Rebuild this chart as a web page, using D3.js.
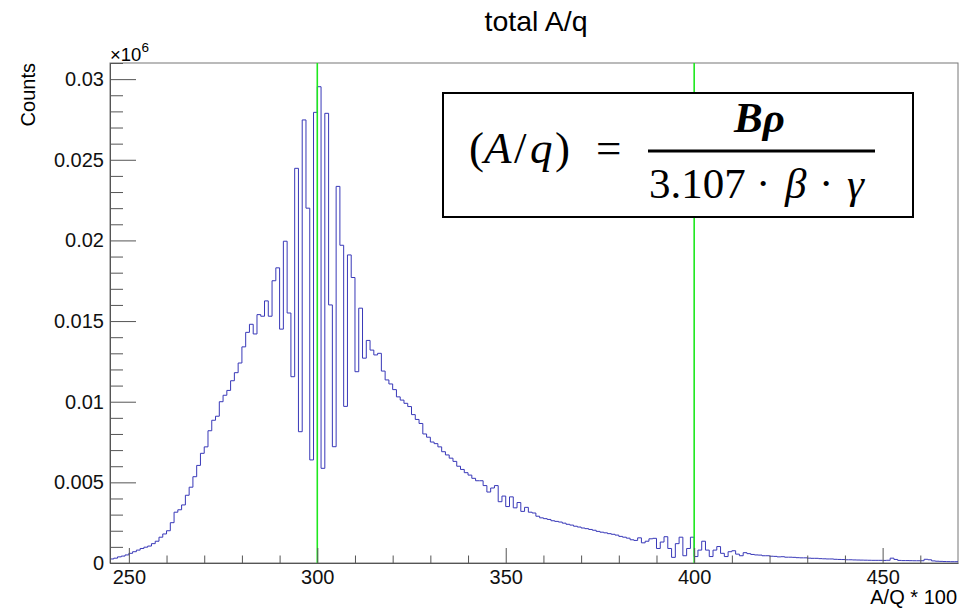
<!DOCTYPE html>
<html>
<head>
<meta charset="utf-8">
<script src="https://cdn.jsdelivr.net/npm/d3@7"></script>
<style>
  body { margin: 0; background: #fff; }
  svg { font-family: "Liberation Sans", Arial, sans-serif; }
</style>
</head>
<body>
<div id="chart-area"></div>
<script>
// HISTOGRAM DEFINITION (A/Q * 100, 1 unit bins)
var xMin = 245, xMax = 470;
var majorX = [250, 300, 350, 400, 450];
var majorY = [0, 5000, 10000, 15000, 20000, 25000, 30000];
var markers = [300, 400];

// counts per bin, starting at 245
var counts = [
  250, 300, 380, 430, 500, 600, 700, 800, 900, 980,
  1050, 1200, 1350, 1600, 1800, 2000, 2500, 3150, 3300, 3600,
  4200, 4700, 5350, 6050, 6800, 7200, 8200, 8850, 9100, 10000,
  10400, 10700, 11300, 11800, 12400, 13400, 14300, 14800, 14200, 15400,
  15300, 16250, 15300, 17500, 18300, 14500, 19950, 15500, 11550, 24470,
  8140, 27470, 22000, 6390, 27940, 29530, 5870, 27880, 16000, 7210,
  23350, 19700, 9710, 19100, 17700, 11860, 15800, 12700, 13800, 13200,
  12900, 13000, 11900, 11350, 11100, 10750, 10300, 10100, 9900, 9700,
  9200, 8900, 8650, 8000, 7800, 7500, 7400, 7200, 6900, 6700,
  6500, 6300, 6000, 5800, 5600, 5450, 5250, 5100, 5100, 4800,
  4400, 4650, 4800, 3800, 4150, 3500, 4100, 3420, 3750, 3200,
  3450, 3150, 3100, 2900, 2800, 2750, 2700, 2620, 2580, 2540,
  2470, 2400, 2350, 2280, 2230, 2170, 2130, 2080, 2030, 1960,
  1910, 1870, 1820, 1780, 1730, 1650, 1600, 1540, 1440, 1400,
  1560, 1250, 1350, 1500, 1530, 900, 1300, 1630, 900, 350,
  1200, 1600, 450, 900, 1600, 400, 800, 1350, 800, 400,
  800, 1020, 600, 400, 700, 760, 550, 450, 640, 580,
  530, 500, 490, 450, 450, 420, 410, 380, 390, 360,
  360, 350, 330, 320, 320, 300, 290, 290, 270, 260,
  250, 250, 230, 220, 215, 200, 200, 190, 185, 180,
  175, 170, 165, 165, 165, 160, 170, 300, 220, 160,
  150, 150, 145, 140, 140, 140, 230, 200, 130, 110,
  100, 90, 85, 80, 80
];

var W = 960, H = 610;
var frame = { left: 110, right: 958, top: 63, bottom: 563 };

var svg = d3.select("#chart-area")
    .append("svg")
        .attr("width", W)
        .attr("height", H);

// SCALES
var x = d3.scaleLinear()
    .domain([xMin, xMax])
    .range([frame.left, frame.right]);

var y = d3.scaleLinear()
    .domain([0, 31000])
    .range([frame.bottom, frame.top]);

// FRAME
svg.append("rect")
    .attr("x", frame.left)
    .attr("y", frame.top)
    .attr("width", frame.right - frame.left)
    .attr("height", frame.bottom - frame.top)
    .attr("fill", "none")
    .attr("stroke", "#777")
    .attr("stroke-width", 1);

// HISTOGRAM (step line)
var pts = counts.map(function(c, i) { return [xMin + i, c]; });
pts.push([xMin + counts.length, counts[counts.length - 1]]);

var step = d3.line()
    .x(function(d) { return x(d[0]); })
    .y(function(d) { return y(d[1]); })
    .curve(d3.curveStepAfter);

svg.append("path")
    .datum(pts)
    .attr("d", step)
    .attr("fill", "none")
    .attr("stroke", "#3838b8")
    .attr("stroke-width", 1);

// GREEN MARKERS
svg.selectAll("line.marker")
    .data(markers)
    .enter().append("line")
    .attr("class", "marker")
    .attr("x1", function(d) { return x(d); })
    .attr("x2", function(d) { return x(d); })
    .attr("y1", frame.top)
    .attr("y2", frame.bottom)
    .attr("stroke", "#1ee81e")
    .attr("stroke-width", 1.6);

// X AXIS
var minorX = d3.range(250, 470, 10).filter(function(v) { return majorX.indexOf(v) < 0; });

svg.append("g")
    .attr("transform", "translate(0," + frame.bottom + ")")
    .call(d3.axisBottom(x).tickValues(minorX).tickSize(-7.5).tickSizeOuter(0).tickFormat(""))
    .call(function(g) { g.select(".domain").remove(); });

svg.append("g")
    .attr("transform", "translate(0," + frame.bottom + ")")
    .call(d3.axisBottom(x).tickValues(majorX).tickSize(-15).tickSizeOuter(0).tickPadding(7).tickFormat(d3.format("d")));

// Y AXIS
var minorY = d3.range(0, 31001, 1000).filter(function(v) { return majorY.indexOf(v) < 0; });

svg.append("g")
    .attr("transform", "translate(" + frame.left + ",0)")
    .call(d3.axisLeft(y).tickValues(minorY).tickSize(-13).tickSizeOuter(0).tickFormat(""))
    .call(function(g) { g.select(".domain").remove(); });

svg.append("g")
    .attr("transform", "translate(" + frame.left + ",0)")
    .call(d3.axisLeft(y).tickValues(majorY).tickSize(-26).tickSizeOuter(0).tickPadding(6)
        .tickFormat(function(d) { return +(d / 1e6).toFixed(3); }));

svg.selectAll(".tick line").attr("stroke", "#555");
svg.selectAll(".domain").attr("stroke", "#555");
svg.selectAll(".tick text")
    .attr("font-size", "20px")
    .attr("fill", "#111")
    .attr("font-family", "'Liberation Sans', Arial, sans-serif");

// LABELS
svg.append("text")
    .attr("x", 536)
    .attr("y", 31)
    .attr("text-anchor", "middle")
    .attr("font-size", "28.5px")
    .text("total A/q");

svg.append("text")
    .attr("transform", "translate(35," + frame.top + ") rotate(-90)")
    .attr("text-anchor", "end")
    .attr("font-size", "20px")
    .text("Counts");

var expo = svg.append("text")
    .attr("x", frame.left)
    .attr("y", 61)
    .attr("font-size", "18.5px");
expo.append("tspan").text("\u00d710");
expo.append("tspan").attr("dy", -9).attr("font-size", "13.5px").text("6");

svg.append("text")
    .attr("x", frame.right - 1)
    .attr("y", 604)
    .attr("text-anchor", "end")
    .attr("font-size", "20px")
    .text("A/Q * 100");

// FORMULA BOX
var box = svg.append("g");
box.append("rect")
    .attr("x", 443)
    .attr("y", 93)
    .attr("width", 470)
    .attr("height", 124)
    .attr("fill", "#fff")
    .attr("stroke", "#000")
    .attr("stroke-width", 2);

var serif = "'Liberation Serif', 'Times New Roman', serif";

var lhs = box.append("text")
    .attr("y", 163)
    .attr("font-family", serif)
    .attr("font-size", "45px");
lhs.append("tspan").attr("x", 469).text("(");
lhs.append("tspan").attr("x", 484).attr("font-style", "italic").text("A");
lhs.append("tspan").attr("x", 514).text("/");
lhs.append("tspan").attr("x", 530).attr("font-style", "italic").text("q");
lhs.append("tspan").attr("x", 555).text(")");
lhs.append("tspan").attr("x", 596).text("=");

box.append("line")
    .attr("x1", 648)
    .attr("x2", 875)
    .attr("y1", 151)
    .attr("y2", 151)
    .attr("stroke", "#000")
    .attr("stroke-width", 3);

box.append("text")
    .attr("x", 734)
    .attr("y", 132)
    .attr("font-family", serif)
    .attr("font-size", "43px")
    .attr("font-weight", "bold")
    .attr("font-style", "italic")
    .text("B\u03c1");

var den = box.append("text")
    .attr("y", 198)
    .attr("font-family", serif)
    .attr("font-size", "43px");
den.append("tspan").attr("x", 649).text("3.107");
den.append("tspan").attr("x", 756).text("\u00b7");
den.append("tspan").attr("x", 785).attr("font-style", "italic").text("\u03b2");
den.append("tspan").attr("x", 819).text("\u00b7");
den.append("tspan").attr("x", 847).attr("font-style", "italic").text("\u03b3");
</script>
</body>
</html>
